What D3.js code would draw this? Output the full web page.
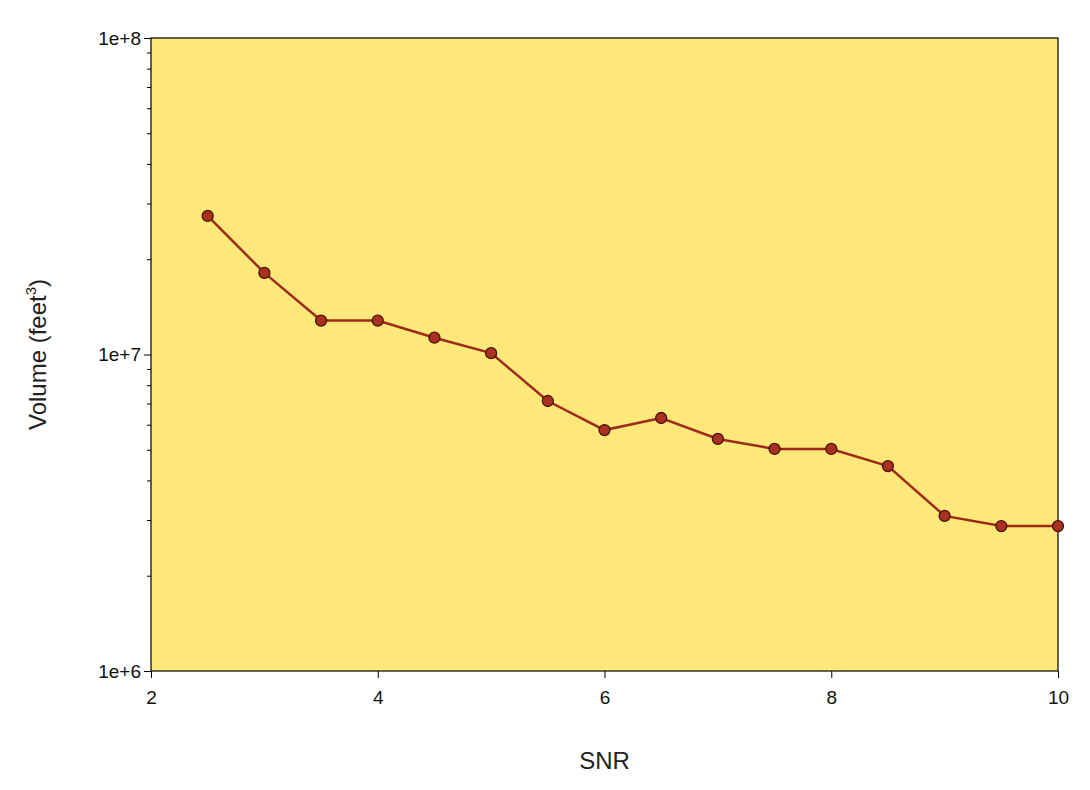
<!DOCTYPE html>
<html><head><meta charset="utf-8">
<script src="https://cdn.jsdelivr.net/npm/d3@7"></script>
<style>body{margin:0;background:#fff} .tick text{font-size:19px;font-family:"Liberation Sans",Arial,sans-serif;fill:#111}</style></head>
<body><svg id="c" width="1090" height="790"></svg>
<script>
const snr = [2.5,3,3.5,4,4.5,5,5.5,6,6.5,7,7.5,8,8.5,9,9.5,10];
const volume = [2.74e7,1.81e7,1.28e7,1.28e7,1.13e7,1.01e7,7.13e6,5.77e6,6.3e6,5.41e6,5.03e6,5.03e6,4.44e6,3.09e6,2.87e6,2.87e6];
const xTicks = [2,4,6,8,10];
const yTicks = [1e6,1e7,1e8];
const yLabels = ["1e+6","1e+7","1e+8"];

const svg = d3.select("#c");
const L=151,R=1058,T=38,B=671;
const x = d3.scaleLinear().domain([2,10]).range([L,R]);
const y = d3.scaleLog().domain([1e6,1e8]).range([B,T]);
svg.append("rect").attr("x",L).attr("y",T).attr("width",R-L).attr("height",B-T)
  .attr("fill","#fde879").attr("stroke","#000").attr("stroke-width",1.2);
const font="Liberation Sans, Arial, sans-serif";
const xa = svg.append("g").attr("transform",`translate(0,${B})`)
  .call(d3.axisBottom(x).tickValues(xTicks).tickFormat(d3.format("d")).tickSize(7).tickSizeOuter(0));
const minors=[];
for(let e=6;e<8;e++) for(let k=2;k<10;k++) minors.push(k*Math.pow(10,e));
svg.append("g").attr("transform",`translate(${L},0)`)
  .call(d3.axisLeft(y).tickValues(minors).tickFormat("").tickSize(4).tickSizeOuter(0));
const ya = svg.append("g").attr("transform",`translate(${L},0)`)
  .call(d3.axisLeft(y).tickValues(yTicks).tickFormat((d,i)=>yLabels[i]).tickSize(7).tickSizeOuter(0));
svg.selectAll("g").attr("font-size",null).attr("font-family",null);
xa.selectAll(".tick text").attr("dy","1.2em");
svg.selectAll(".domain").remove();
svg.append("path").datum(snr.map((s,i)=>[s,volume[i]]))
  .attr("d",d3.line().x(d=>x(d[0])).y(d=>y(d[1])))
  .attr("fill","none").attr("stroke","#9e2a1c").attr("stroke-width",2.5);
svg.selectAll("circle.p").data(snr).join("circle").attr("class","p")
  .attr("cx",d=>x(d)).attr("cy",(d,i)=>y(volume[i])).attr("r",5.5)
  .attr("fill","#a8321f").attr("stroke","#4a1208").attr("stroke-width",1.3);
svg.append("text").attr("x",(L+R)/2).attr("y",769).attr("text-anchor","middle")
  .attr("font-family",font).attr("font-size",24).attr("fill","#222").text("SNR");
const yl=svg.append("text").attr("transform",`translate(46,${(T+B)/2}) rotate(-90)`)
  .attr("text-anchor","middle").attr("font-family",font).attr("font-size",24).attr("fill","#222");
yl.append("tspan").text("Volume (feet");
yl.append("tspan").attr("font-size",15).attr("dy",-10).text("3");
yl.append("tspan").attr("dy",10).text(")");
</script></body></html>
